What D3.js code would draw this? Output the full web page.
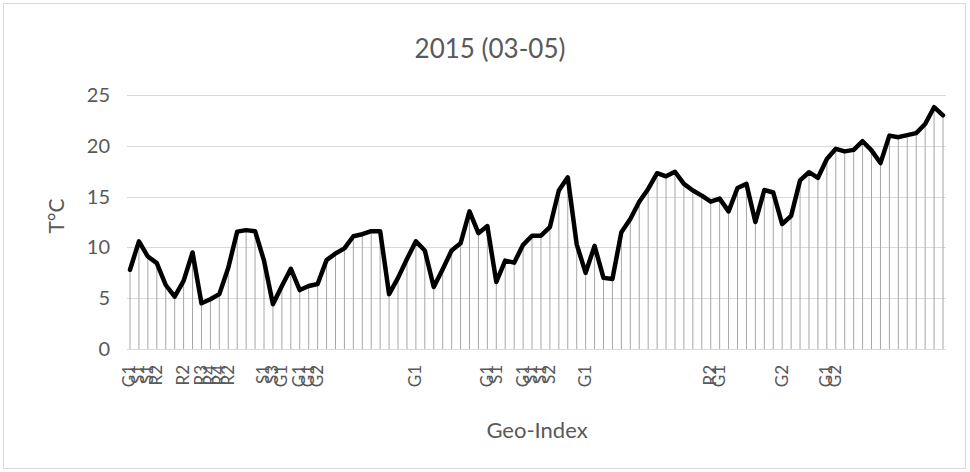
<!DOCTYPE html>
<html>
<head>
<meta charset="utf-8">
<script src="https://cdn.jsdelivr.net/npm/d3@7"></script>
<style>
  html, body { margin: 0; padding: 0; background: #fff; }
  svg { display: block; }
  text { font-family: Lato, "Noto Sans", sans-serif; fill: #595959; }
</style>
</head>
<body>
<svg id="chart" width="970" height="472"></svg>
<script>
// Mean temperature per station, March–May 2015, ordered by geo-index
const temps = [
  7.8, 10.6, 9.1, 8.45, 6.3, 5.15, 6.7, 9.5, 4.5, 4.9,
  5.4, 8.0, 11.55, 11.7, 11.6, 8.7, 4.4, 6.2, 7.9, 5.8,
  6.2, 6.4, 8.75, 9.4, 9.9, 11.1, 11.3, 11.6, 11.6, 5.4,
  7.0, 8.85, 10.6, 9.7, 6.1, 7.85, 9.7, 10.4, 13.55, 11.4,
  12.1, 6.6, 8.7, 8.5, 10.25, 11.15, 11.15, 12.0, 15.6, 16.9,
  10.3, 7.5, 10.15, 7.0, 6.9, 11.5, 12.8, 14.5, 15.75, 17.3,
  17.0, 17.45, 16.25, 15.6, 15.1, 14.5, 14.8, 13.55, 15.85, 16.25,
  12.5, 15.65, 15.4, 12.3, 13.1, 16.6, 17.4, 16.85, 18.7, 19.7,
  19.45, 19.6, 20.45, 19.55, 18.3, 21.0, 20.85, 21.05, 21.25, 22.15,
  23.8, 23.0
];

// Station class codes shown under the axis (blank where none is printed)
const stationCodes = [
  "G1", "S1", "S1", "R2", "", "", "R2", "", "R3", "R4",
  "R4", "R2", "", "", "", "S1", "S3", "G1", "", "G1",
  "G1", "G2", "", "", "", "", "", "", "", "",
  "", "", "G1", "", "", "", "", "", "", "",
  "G1", "S1", "", "", "G1", "S1", "S1", "S2", "", "",
  "", "G1", "", "", "", "", "", "", "", "",
  "", "", "", "", "", "R2", "G1", "", "", "",
  "", "", "", "G2", "", "", "", "", "G1", "G2",
  "", "", "", "", "", "", "", "", "", "",
  "", ""
];

const yTicks = [0, 5, 10, 15, 20, 25];
const chartTitle = "2015 (03-05)";
const yTitle = "T°C";
const xTitle = "Geo-Index";

const svg = d3.select("#chart");

// chart frame
svg.append("rect")
  .attr("x", 3.5).attr("y", 3.5)
  .attr("width", 962).attr("height", 465)
  .attr("fill", "#fff")
  .attr("stroke", "#d9d9d9")
  .attr("stroke-width", 1);

const plot = { left: 127, right: 946, top: 95, bottom: 349 };

const x = d3.scalePoint()
  .domain(d3.range(temps.length))
  .range([130, 943]);

const y = d3.scaleLinear()
  .domain([0, 25])
  .range([plot.bottom, plot.top]);

// horizontal gridlines
svg.append("g")
  .selectAll("line")
  .data(yTicks.filter(d => d > 0))
  .join("line")
  .attr("x1", plot.left).attr("x2", plot.right)
  .attr("y1", d => Math.round(y(d)) + 0.5)
  .attr("y2", d => Math.round(y(d)) + 0.5)
  .attr("stroke", "#d9d9d9")
  .attr("stroke-width", 1);

// y axis labels
const yAxis = d3.axisLeft(y).tickValues(yTicks).tickSize(0).tickPadding(0);
const yg = svg.append("g")
  .attr("transform", `translate(${plot.left - 17},0)`)
  .call(yAxis);
yg.select(".domain").remove();
yg.selectAll("text")
  .style("font-family", "Lato, sans-serif")
  .style("font-size", "20px")
  .attr("fill", "#595959");

// drop lines from each point to the category axis
svg.append("g")
  .selectAll("line")
  .data(temps)
  .join("line")
  .attr("x1", (d, i) => x(i)).attr("x2", (d, i) => x(i))
  .attr("y1", d => y(d))
  .attr("y2", y(0))
  .attr("stroke", "#a6a6a6")
  .attr("stroke-width", 1);

// category axis baseline
svg.append("line")
  .attr("x1", plot.left).attr("x2", plot.right)
  .attr("y1", Math.round(y(0)) + 0.5).attr("y2", Math.round(y(0)) + 0.5)
  .attr("stroke", "#d9d9d9")
  .attr("stroke-width", 1);

// temperature line
const line = d3.line()
  .x((d, i) => x(i))
  .y(d => y(d));

svg.append("path")
  .datum(temps)
  .attr("d", line)
  .attr("fill", "none")
  .attr("stroke", "#000")
  .attr("stroke-width", 4.5)
  .attr("stroke-linejoin", "round")
  .attr("stroke-linecap", "round");

// rotated station codes
const xAxis = d3.axisBottom(x)
  .tickFormat(i => stationCodes[i])
  .tickSize(0)
  .tickPadding(0);
const xg = svg.append("g")
  .attr("transform", `translate(0,${plot.bottom})`)
  .call(xAxis);
xg.select(".domain").remove();
xg.selectAll("text")
  .attr("transform", "rotate(-90)")
  .attr("x", -16)
  .attr("y", -1)
  .attr("dy", "0.35em")
  .attr("text-anchor", "end")
  .style("font-family", "Lato, sans-serif")
  .style("font-size", "17px")
  .attr("fill", "#595959");

// titles
svg.append("text")
  .attr("x", 490).attr("y", 58)
  .attr("text-anchor", "middle")
  .style("font-size", "26px")
  .attr("fill", "#404040")
  .text(chartTitle);

svg.append("text")
  .attr("transform", "translate(64,216) rotate(-90)")
  .attr("text-anchor", "middle")
  .style("font-size", "21px")
  .text(yTitle);

svg.append("text")
  .attr("x", 537).attr("y", 438)
  .attr("text-anchor", "middle")
  .style("font-size", "22px")
  .text(xTitle);
</script>
</body>
</html>
